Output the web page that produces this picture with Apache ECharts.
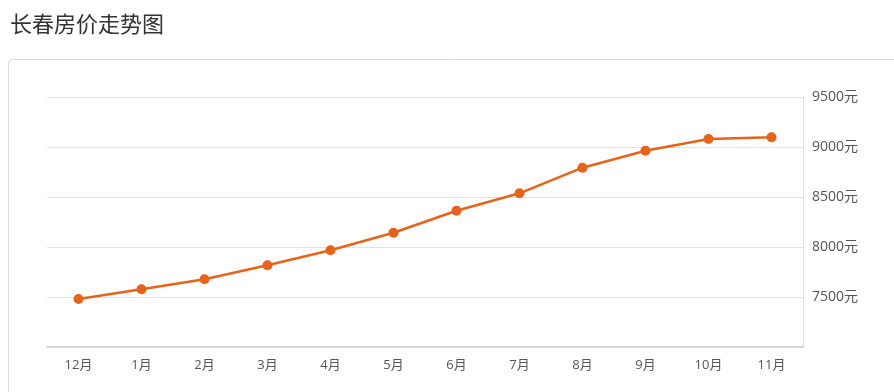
<!DOCTYPE html>
<html>
<head>
<meta charset="utf-8">
<script src="https://cdn.jsdelivr.net/npm/echarts@6/dist/echarts.min.js"></script>
<style>
html,body{margin:0;padding:0;background:#fff;}
#c{width:894px;height:392px;}
</style>
</head>
<body>
<div id="c"></div>
<script>
const titleText = '长春房价走势图';
const categories = ['12月','1月','2月','3月','4月','5月','6月','7月','8月','9月','10月','11月'];
const prices = [7480, 7577, 7677, 7817, 7967, 8143, 8363, 8537, 8793, 8963, 9080, 9097];
const yMin = 7000, yMax = 9500, yStep = 500;
const yUnit = '元';

const chart = echarts.init(document.getElementById('c'));
chart.setOption({
  backgroundColor: '#fff',
  animation: false,
  title: {
    text: titleText,
    left: 5, top: 8,
    textStyle: { fontFamily: 'Noto Sans CJK SC', fontSize: 22, fontWeight: 'normal', color: '#333' }
  },
  graphic: [{
    type: 'rect',
    shape: { x: 8.5, y: 59.5, width: 900, height: 340, r: 4 },
    style: { fill: '#fff', stroke: '#dcdcdc', lineWidth: 1 },
    z: -10
  }],
  grid: { left: 47, right: 91, top: 97, bottom: 45 },
  xAxis: {
    type: 'category',
    data: categories,
    boundaryGap: true,
    axisLine: { lineStyle: { color: '#d8d8d8', width: 2 } },
    axisTick: { alignWithLabel: true, length: 5, lineStyle: { color: '#d8d8d8' } },
    axisLabel: { color: '#555', fontSize: 13, margin: 12, fontFamily: '"Open Sans", "Noto Sans CJK SC"' },
    splitLine: { show: false }
  },
  yAxis: {
    type: 'value',
    position: 'right',
    min: yMin, max: yMax, interval: yStep,
    axisLine: { show: true, lineStyle: { color: '#e0e0e0', width: 1 } },
    axisTick: { show: false },
    axisLabel: {
      formatter: function (v) { return String(v) + yUnit; },
      showMinLabel: false,
      color: '#555', fontSize: 14, margin: 9, fontFamily: '"Open Sans", "Noto Sans CJK SC"'
    },
    splitLine: { lineStyle: { color: '#e2e2e2', width: 1 } }
  },
  series: [{
    type: 'line',
    data: prices,
    symbol: 'circle',
    symbolSize: 10,
    lineStyle: { color: '#e8631a', width: 2.5 },
    itemStyle: { color: '#e8631a' }
  }]
});
</script>
</body>
</html>
